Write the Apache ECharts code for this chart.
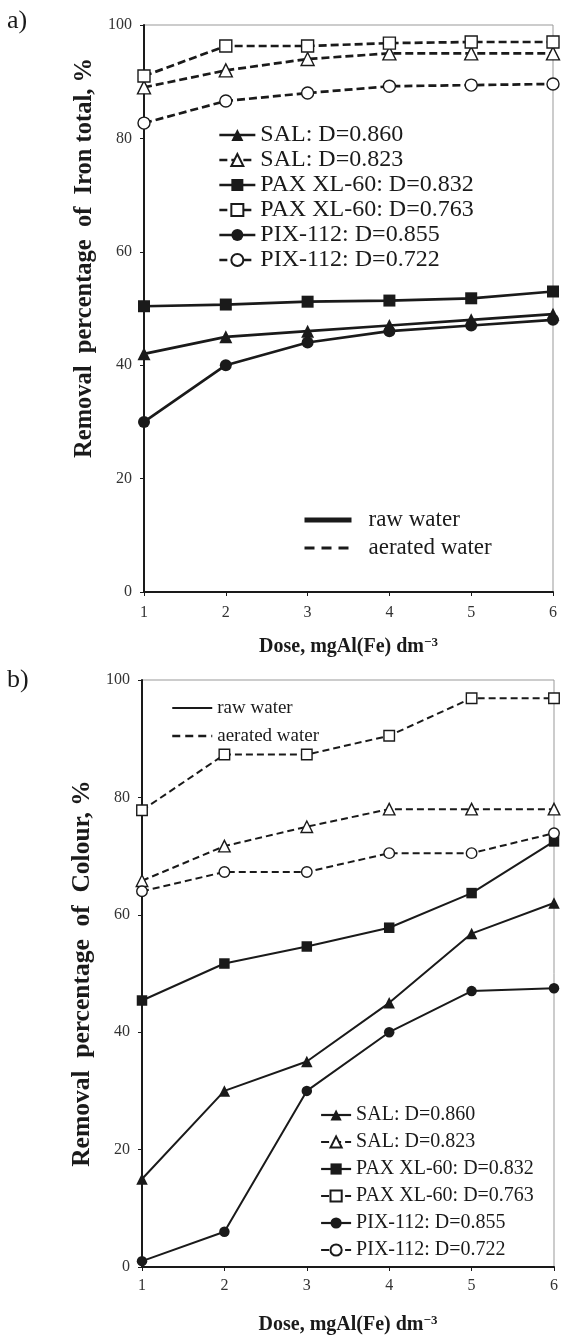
<!DOCTYPE html>
<html>
<head>
<meta charset="utf-8">
<script src="https://cdn.jsdelivr.net/npm/echarts@6/dist/echarts.min.js"></script>
<style>
  html, body { margin: 0; padding: 0; background: #fff; }
  #main { width: 561px; height: 1336px; }
</style>
</head>
<body>
<div id="main"></div>
<script>
// dose, mgAl(Fe) dm-3
var doses = [1, 2, 3, 4, 5, 6]
var yTicks = [0, 20, 40, 60, 80, 100]

// a) removal of iron total, %
var ironSal860 = [42, 45, 46, 47, 48, 49]
var ironSal823 = [89, 92, 94, 95, 95, 95]
var ironPax832 = [50.4, 50.7, 51.2, 51.4, 51.8, 53]
var ironPax763 = [91, 96.3, 96.3, 96.8, 97, 97]
var ironPix855 = [30, 40, 44, 46, 47, 48]
var ironPix722 = [82.7, 86.6, 88, 89.2, 89.4, 89.6]

// b) removal of colour, %
var colSal860 = [15, 30, 35, 45, 56.8, 62]
var colSal823 = [65.8, 71.7, 75, 78, 78, 78]
var colPax832 = [45.4, 51.7, 54.6, 57.8, 63.7, 72.5]
var colPax763 = [77.8, 87.3, 87.3, 90.5, 96.9, 96.9]
var colPix855 = [1, 6, 30, 40, 47, 47.5]
var colPix722 = [64, 67.3, 67.3, 70.5, 70.5, 73.9]

var names = ['SAL: D=0.860', 'SAL: D=0.823', 'PAX XL-60: D=0.832',
  'PAX XL-60: D=0.763', 'PIX-112: D=0.855', 'PIX-112: D=0.722']
var symbols = ['triangle', 'triangle', 'rect', 'rect', 'circle', 'circle']

var serif = "'Liberation Serif', 'Times New Roman', serif"
var ink = '#1a1a1a'

function pairs(vals) {
  return doses.map(function (d, i) { return [d, vals[i]] })
}

// one line series; odd index = aerated water (dashed, open marker)
function mk(i, vals, idx, lw, size, dash) {
  var open = i % 2 === 1
  return {
    name: names[i],
    type: 'line',
    xAxisIndex: idx,
    yAxisIndex: idx,
    data: pairs(vals),
    symbol: symbols[i],
    symbolSize: symbols[i] === 'triangle' ? size + 1 : size,
    showAllSymbol: true,
    z: open ? 3 : 2,
    lineStyle: { color: ink, width: lw, type: open ? dash : 'solid' },
    itemStyle: { color: open ? '#fff' : ink, borderColor: ink, borderWidth: open ? 1.4 : 0 }
  }
}

function dummy(name, lw, type) {
  return {
    name: name, type: 'line', xAxisIndex: 0, yAxisIndex: 0, data: [],
    symbol: 'none',
    itemStyle: { color: 'transparent', borderColor: 'transparent' },
    lineStyle: { color: ink, width: lw, type: type }
  }
}

var chart = echarts.init(document.getElementById('main'))

function xAxisOf(idx, gap, margin) {
  return {
    type: 'value', gridIndex: idx, min: 1, max: 6, interval: 1,
    name: '{b|Dose, mgAl(Fe) dm}{s|\u22123}',
    nameLocation: 'middle', nameGap: gap,
    nameTextStyle: {
      rich: {
        b: { fontFamily: serif, fontWeight: 'bold', fontSize: 20, color: ink, lineHeight: 22 },
        s: { fontFamily: serif, fontWeight: 'bold', fontSize: 13, color: ink, verticalAlign: 'top' }
      }
    },
    axisLine: { lineStyle: { color: ink, width: 2 } },
    axisTick: { show: true, length: 4, lineStyle: { color: ink, width: 1 } },
    axisLabel: { fontFamily: serif, fontSize: 16, color: '#333', margin: margin },
    splitLine: { show: false }
  }
}

function yAxisOf(idx, title, size, gap, shift) {
  return {
    type: 'value', gridIndex: idx, min: 0, max: 100, interval: 20,
    name: title, nameLocation: 'middle', nameGap: gap,
    nameTextStyle: { fontFamily: serif, fontWeight: 'bold', fontSize: size, color: ink, padding: [0, 0, 0, shift] },
    axisLine: { show: true, lineStyle: { color: ink, width: 2 } },
    axisTick: { show: true, length: 4, lineStyle: { color: ink, width: 1 } },
    axisLabel: {
      fontFamily: serif, fontSize: 16, color: '#333', margin: 12,
      formatter: function (v) { return yTicks.indexOf(v) >= 0 ? String(v) : '' }
    },
    splitLine: { show: false }
  }
}

var seriesLegendText = { fontFamily: serif, color: ink }

chart.setOption({
  animation: false,
  title: [
    { text: 'a)', left: 7, top: 8, padding: 0, textStyle: { fontFamily: serif, fontWeight: 'normal', fontSize: 26, color: ink } },
    { text: 'b)', left: 7, top: 667, padding: 0, textStyle: { fontFamily: serif, fontWeight: 'normal', fontSize: 26, color: ink } }
  ],
  grid: [
    { left: 144, top: 25, width: 409, height: 567, show: true, borderColor: '#999', borderWidth: 1 },
    { left: 142, top: 680, width: 412, height: 591, show: true, borderColor: '#999', borderWidth: 1 }
  ],
  xAxis: [xAxisOf(0, 44, 13), xAxisOf(1, 47, 11)],
  yAxis: [
    yAxisOf(0, 'Removal  percentage  of  Iron total, %', 24.5, 47, 101),
    yAxisOf(1, 'Removal  percentage  of  Colour, %', 25.5, 42, 0)
  ],
  legend: [
    {
      orient: 'vertical', left: 218, top: 122.5, padding: 0, itemGap: 0,
      itemWidth: 36, itemHeight: 15, selectedMode: false,
      lineStyle: { width: 'inherit' },
      textStyle: Object.assign({ fontSize: 24, lineHeight: 25 }, seriesLegendText),
      data: names
    },
    {
      orient: 'vertical', left: 302, top: 506, padding: 0, itemGap: 0,
      itemWidth: 47, itemHeight: 10, selectedMode: false,
      lineStyle: { width: 'inherit' },
      textStyle: Object.assign({ fontSize: 23, lineHeight: 28, padding: [0, 0, 0, 12] }, seriesLegendText),
      data: ['raw water', 'aerated water']
    },
    {
      orient: 'vertical', left: 171, top: 694, padding: 0, itemGap: 0,
      itemWidth: 40, itemHeight: 10, selectedMode: false,
      textStyle: Object.assign({ fontSize: 19, lineHeight: 28 }, seriesLegendText),
      data: [
        { name: 'raw water', lineStyle: { width: 2 } },
        { name: 'aerated water', lineStyle: { width: 2.5, type: [8, 5] } }
      ]
    },
    {
      orient: 'vertical', left: 320, top: 1101.5, padding: 0, itemGap: 0,
      itemWidth: 30, itemHeight: 14, selectedMode: false,
      lineStyle: { width: 2.2 },
      textStyle: Object.assign({ fontSize: 20, lineHeight: 27 }, seriesLegendText),
      data: names
    }
  ],
  series: [
    mk(0, ironSal860, 0, 2.7, 12, [8, 4]),
    mk(1, ironSal823, 0, 2.7, 12, [8, 4]),
    mk(2, ironPax832, 0, 2.7, 12, [8, 4]),
    mk(3, ironPax763, 0, 2.7, 12, [8, 4]),
    mk(4, ironPix855, 0, 2.7, 12, [8, 4]),
    mk(5, ironPix722, 0, 2.7, 12, [8, 4]),
    mk(0, colSal860, 1, 2, 10.5, [7, 4]),
    mk(1, colSal823, 1, 2, 10.5, [7, 4]),
    mk(2, colPax832, 1, 2, 10.5, [7, 4]),
    mk(3, colPax763, 1, 2, 10.5, [7, 4]),
    mk(4, colPix855, 1, 2, 10.5, [7, 4]),
    mk(5, colPix722, 1, 2, 10.5, [7, 4]),
    dummy('raw water', 5, 'solid'),
    dummy('aerated water', 3, [10, 7])
  ]
})
</script>
</body>
</html>
